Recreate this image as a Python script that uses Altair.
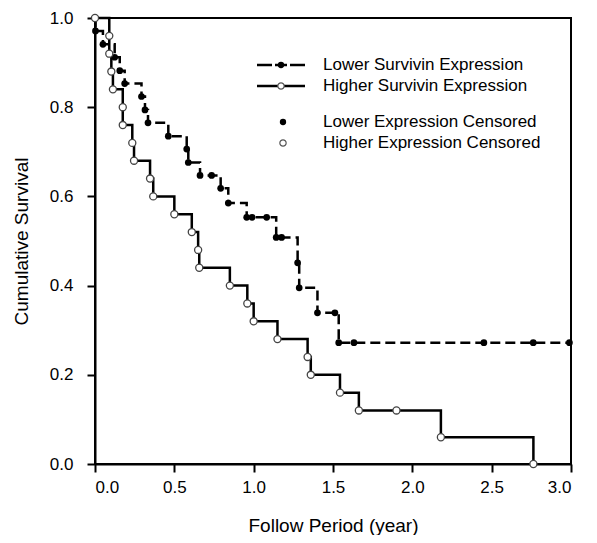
import altair as alt
import pandas as pd

# ---- data ----
high_time = [0.0, 0.09, 0.09, 0.103, 0.113, 0.175, 0.175, 0.235, 0.246, 0.347, 0.367,
             0.50, 0.61, 0.65, 0.657, 0.85, 0.96, 1.0, 1.15, 1.34, 1.36, 1.544,
             1.663, 1.90, 2.18, 2.763]
high_surv = [1.0, 0.96, 0.92, 0.88, 0.84, 0.80, 0.76, 0.72, 0.68, 0.64, 0.60,
             0.56, 0.52, 0.48, 0.44, 0.40, 0.36, 0.32, 0.28, 0.24, 0.20, 0.16,
             0.12, 0.12, 0.06, 0.0]

low_time = [0.0, 0.003, 0.05, 0.124, 0.156, 0.187, 0.293, 0.315, 0.334, 0.462,
            0.578, 0.588, 0.662, 0.735, 0.792, 0.84, 0.956, 0.99, 1.082, 1.142,
            1.176, 1.277, 1.287, 1.402, 1.512, 1.536, 1.632, 2.451, 2.762, 2.99]
low_surv = [1.0, 0.971, 0.941, 0.912, 0.882, 0.853, 0.824, 0.794, 0.765, 0.735,
            0.706, 0.676, 0.647, 0.647, 0.618, 0.585, 0.553, 0.553, 0.553, 0.508,
            0.508, 0.451, 0.395, 0.339, 0.339, 0.272, 0.272, 0.272, 0.272, 0.272]

x_ticks = [0.0, 0.5, 1.0, 1.5, 2.0, 2.5, 3.0]
y_ticks = [0.0, 0.2, 0.4, 0.6, 0.8, 1.0]

legend_labels = ["Lower Survivin Expression", "Higher Survivin Expression",
                 "Lower Expression Censored", "Higher Expression Censored"]

FONT = "Liberation Sans"

high = pd.DataFrame({"t": high_time, "s": high_surv, "i": range(len(high_time))})
low = pd.DataFrame({"t": low_time, "s": low_surv, "i": range(len(low_time))})
low_marks = low[low["i"] > 0]

xs = alt.Scale(domain=[0, 3], nice=False)
ys = alt.Scale(domain=[0, 1], nice=False)

xax = alt.Axis(values=x_ticks, format=".1f", title="Follow Period (year)")
yax = alt.Axis(values=y_ticks, format=".1f", title="Cumulative Survival")

base_low = alt.Chart(low)
base_high = alt.Chart(high)

low_line = base_low.mark_line(interpolate="step-after", color="black",
                              strokeWidth=2.5, strokeDash=[10, 5]).encode(
    x=alt.X("t:Q", scale=xs, axis=xax),
    y=alt.Y("s:Q", scale=ys, axis=yax),
    order="i:Q",
)
high_line = base_high.mark_line(interpolate="step-after", color="black",
                                strokeWidth=2.5).encode(
    x=alt.X("t:Q", scale=xs),
    y=alt.Y("s:Q", scale=ys),
    order="i:Q",
)
low_pts = alt.Chart(low_marks).mark_point(filled=True, color="black", size=45,
                                          opacity=1).encode(
    x=alt.X("t:Q", scale=xs), y=alt.Y("s:Q", scale=ys))
high_pts = base_high.mark_point(shape="circle", fill="white", stroke="#444",
                                strokeWidth=1.3, size=50, opacity=1,
                                fillOpacity=1).encode(
    x=alt.X("t:Q", scale=xs), y=alt.Y("s:Q", scale=ys))

# ---- manual legend (pixel layout inside plot area) ----
leg_rows = [47, 68, 104, 125]
seg = pd.DataFrame({
    "x0": [162, 180, 195, 162],
    "x1": [177, 192, 210, 210],
    "y": [leg_rows[0]] * 3 + [leg_rows[1]],
})
leg_lines = alt.Chart(seg).mark_rule(color="black", strokeWidth=2.5).encode(
    x=alt.X("x0:Q", scale=None), x2="x1:Q", y=alt.Y("y:Q", scale=None))
leg_fill = alt.Chart(pd.DataFrame({"x": [186, 188], "y": [leg_rows[0], leg_rows[2]]})).mark_point(
    filled=True, color="black", size=40, opacity=1).encode(
    x=alt.X("x:Q", scale=None), y=alt.Y("y:Q", scale=None))
leg_open = alt.Chart(pd.DataFrame({"x": [186, 188], "y": [leg_rows[1], leg_rows[3]]})).mark_point(
    shape="circle", fill="white", stroke="#555", strokeWidth=1.2, size=40,
    opacity=1, fillOpacity=1).encode(
    x=alt.X("x:Q", scale=None), y=alt.Y("y:Q", scale=None))
leg_text = alt.Chart(pd.DataFrame({"label": legend_labels, "y": leg_rows})).mark_text(
    align="left", baseline="middle", font=FONT, fontSize=17, color="black").encode(
    x=alt.value(228), y=alt.Y("y:Q", scale=None), text="label:N")

chart = alt.layer(low_line, high_line, low_pts, high_pts,
                  leg_lines, leg_fill, leg_open, leg_text).properties(
    width=476, height=446,
    padding={"left": 87, "top": 10, "right": 18, "bottom": 71},
    autosize=alt.AutoSizeParams(type="none"),
).configure_view(stroke="black", strokeWidth=2).configure_axis(
    grid=False, domainColor="black", domainWidth=2, tickColor="black",
    tickWidth=2, tickSize=8, labelFont=FONT, labelFontSize=17,
    labelColor="black", titleFont=FONT, titleFontSize=19,
    titleFontWeight="normal", titleColor="black",
).configure_axisX(labelPadding=7, titlePadding=21).configure_axisY(
    labelPadding=14, titlePadding=18)

chart.save("out.html", embed_options={"renderer": "svg", "actions": False})
